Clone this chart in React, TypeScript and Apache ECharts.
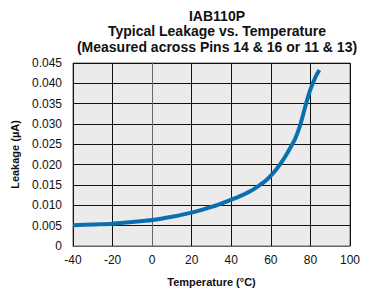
import React, { useEffect, useRef } from "react";
import * as echarts from "echarts";

const titleLines = [
  "IAB110P",
  "Typical Leakage vs. Temperature",
  "(Measured across Pins 14 & 16 or 11 & 13)",
];
const xAxisName = "Temperature (\u00B0C)";
const yAxisName = "Leakage (\u00B5A)";

const temperature = [-40, -30, -20, -10, 0, 10, 20, 30, 40, 45, 50, 55, 57.5, 60, 62.5, 65, 67.5, 70, 72.5, 75, 77.5, 80, 82.5, 84.5];
const leakage = [0.0051, 0.0053, 0.0055, 0.0059, 0.0064, 0.0072, 0.0082, 0.0096, 0.0114, 0.0124, 0.0136, 0.0152, 0.0161, 0.0173, 0.0187, 0.0203, 0.0222, 0.0243, 0.0266, 0.03, 0.0345, 0.0385, 0.0415, 0.0433];

export default function App() {
  const ref = useRef<HTMLDivElement>(null);
  useEffect(() => {
    if (!ref.current) return;
    const chart = echarts.init(ref.current, null, { renderer: "svg" });
    const font = "Liberation Sans, Arial, Helvetica, sans-serif";
    chart.setOption({
      animation: false,
      backgroundColor: "#ffffff",
      title: {
        text: titleLines.join("\n"),
        left: 212,
        top: 3,
        textAlign: "center",
        textStyle: {
          fontFamily: font,
          fontSize: 14,
          fontWeight: "bold",
          lineHeight: 15.5,
          color: "#111",
        },
      },
      grid: {
        left: 73,
        right: 23,
        top: 63,
        bottom: 49,
        show: true,
        backgroundColor: "#ebebeb",
        borderColor: "#666",
        borderWidth: 1,
      },
      xAxis: {
        type: "value",
        min: -40,
        max: 100,
        interval: 20,
        name: xAxisName,
        nameLocation: "middle",
        nameGap: 30,
        nameTextStyle: { fontFamily: font, fontSize: 11, fontWeight: "bold", color: "#111" },
        axisLine: { show: true, lineStyle: { color: "#666", width: 1 } },
        axisTick: { show: false },
        axisLabel: { fontFamily: font, fontSize: 12, color: "#111", margin: 8 },
        splitLine: { show: true, lineStyle: { color: "#111", width: 1 } },
      },
      yAxis: {
        type: "value",
        min: 0,
        max: 0.045,
        interval: 0.005,
        name: yAxisName,
        nameLocation: "middle",
        nameGap: 53,
        nameRotate: 90,
        nameTextStyle: { fontFamily: font, fontSize: 11, fontWeight: "bold", color: "#111" },
        axisLine: { show: true, lineStyle: { color: "#666", width: 1 } },
        axisTick: { show: false },
        axisLabel: {
          fontFamily: font,
          fontSize: 12,
          color: "#111",
          margin: 11,
          formatter: (v: number) => (v === 0 ? "0" : v.toFixed(3)),
        },
        splitLine: { show: true, lineStyle: { color: "#111", width: 1 } },
      },
      series: [
        {
          type: "line",
          data: temperature.map((t, i) => [t, leakage[i]]),
          smooth: 0.3,
          showSymbol: false,
          lineStyle: { color: "#0a6fb0", width: 4, cap: "butt" },
        },
      ],
    });
    return () => chart.dispose();
  }, []);
  return <div ref={ref} style={{ width: 373, height: 295, position: "absolute", left: 0, top: 0 }} />;
}
